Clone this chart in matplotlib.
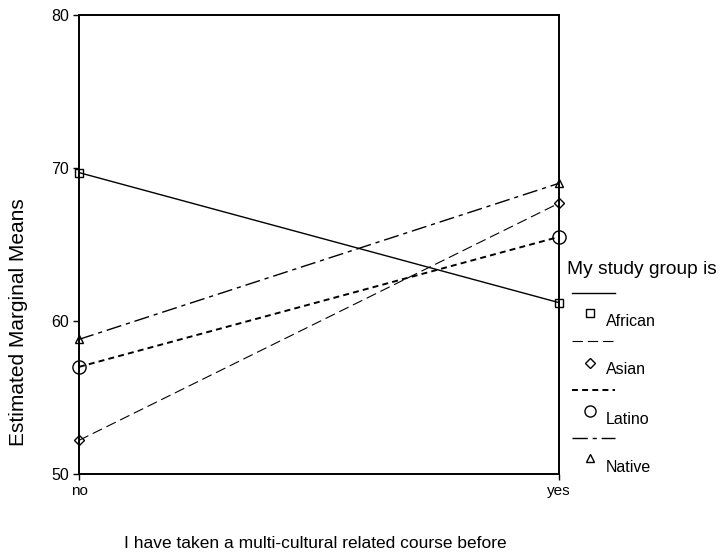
import matplotlib
matplotlib.use("Agg")
import matplotlib.pyplot as plt
from matplotlib.lines import Line2D

plt.rcParams['font.family'] = ['Liberation Sans', 'DejaVu Sans']
plt.rcParams['lines.scale_dashes'] = False

categories = ["no", "yes"]
groups = ["African", "Asian", "Latino", "Native"]
african = [69.7, 61.2]
asian = [52.2, 67.7]
latino = [57.0, 65.5]
native = [58.8, 69.0]
series = [african, asian, latino, native]

markers = ['s', 'D', 'o', '^']
msizes = [6.0, 5.5, 9.5, 6.0]
leg_msizes = [6.0, 5.5, 8.0, 5.5]
styles = ['-', (0, (7.5, 3.5)), (0, (4.3, 3.0)), (0, (11, 3.5, 3, 3.5))]
widths = [1.0, 0.8, 1.4, 1.0]

W, H = 720, 557
fig = plt.figure(figsize=(7.2, 5.57), dpi=100)
ax = fig.add_axes([79 / W, 1 - 474 / H, (559 - 79) / W, (474 - 15) / H])
x = list(range(len(categories)))
for vals, m, ms, ls, lw in zip(series, markers, msizes, styles, widths):
    ax.plot(x, vals, color='black', linestyle=ls, linewidth=lw,
            marker=m, markersize=ms, markerfacecolor='none',
            markeredgecolor='black', markeredgewidth=1.0, clip_on=False)

ax.set_xlim(0, 1)
ax.set_ylim(50, 80)
ax.set_xticks(x)
ax.set_xticklabels(categories, fontsize=11)
ax.set_yticks([50, 60, 70, 80])
ax.tick_params(axis='y', labelsize=11.5, length=4, direction='out', width=1, pad=3)
ax.tick_params(axis='x', length=4, direction='out', width=1, pad=3)
for s in ax.spines.values():
    s.set_linewidth(1.4)

fig.text(19 / W, 1 - 322 / H, "Estimated Marginal Means", fontsize=15,
         rotation=90, ha='center', va='center')
fig.text(124 / W, 1 - 543 / H, "I have taken a multi-cultural related course before",
         fontsize=12.5, ha='left', va='center')

# legend drawn manually
fig.text(567 / W, 1 - 270 / H, "My study group is", fontsize=13.8, ha='left', va='center')
line_y = [293, 341, 390, 438]
mark_y = [313, 363, 411, 458]
text_y = [322, 370, 420, 468]
for g, m, ms, ls, lw, ly, my, ty in zip(groups, markers, leg_msizes, styles, widths,
                                          line_y, mark_y, text_y):
    fig.add_artist(Line2D([572 / W, 615 / W], [1 - ly / H, 1 - ly / H],
                          color='black', linestyle=ls, linewidth=lw))
    fig.add_artist(Line2D([590 / W], [1 - my / H], marker=m,
                          markersize=ms, markerfacecolor='none',
                          markeredgecolor='black', markeredgewidth=1.0))
    fig.text(606 / W, 1 - ty / H, g, fontsize=11.5, ha='left', va='center')

fig.savefig("out.png", dpi=100)
